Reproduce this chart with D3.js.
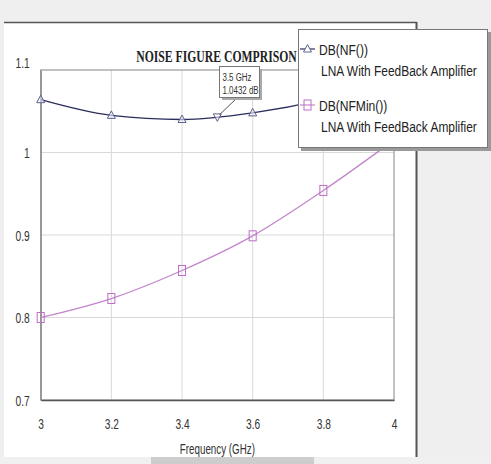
<!DOCTYPE html>
<html><head><meta charset="utf-8">
<script src="https://cdn.jsdelivr.net/npm/d3@7"></script>
<style>html,body{margin:0;padding:0;background:#fff;}svg{display:block;}</style>
</head><body>
<svg id="c" width="491" height="464"></svg>
<script>
// ---- data ----
const freqs = [3.0, 3.2, 3.4, 3.6, 3.8, 4.0];
const nfValues = [1.064, 1.045, 1.040, 1.048, 1.064, 1.088];
const nfMinValues = [0.800, 0.823, 0.857, 0.899, 0.954, 1.015];
const xTicks = [3, 3.2, 3.4, 3.6, 3.8, 4];
const yTicks = [0.7, 0.8, 0.9, 1, 1.1];
const markerFreq = 3.5, markerValue = 1.0432;
const markerLabel = ["3.5 GHz", "1.0432 dB"];
const title = "NOISE FIGURE COMPRISON";
const xLabel = "Frequency (GHz)";
const legendNames = ["DB(NF())", "DB(NFMin())"];
const legendSub = "LNA With FeedBack Amplifier";

const svg = d3.select("#c");
const sans = "'Liberation Sans', Arial, sans-serif";

// condensed text: placed with a horizontal scale transform
function ctext(parent, px, py, f, str) {
  return parent.append("text").attr("transform", `translate(${px},${py}) scale(${f},1)`).text(str);
}

// window chrome
svg.append("rect").attr("width", 491).attr("height", 464).attr("fill", "#efefef");
svg.append("rect").attr("x", 4).attr("y", 23).attr("width", 412).attr("height", 434).attr("fill", "#fff");
svg.append("line").attr("x1", 4).attr("x2", 417).attr("y1", 22.5).attr("y2", 22.5).attr("stroke", "#555").attr("stroke-width", 1.5);
svg.append("line").attr("x1", 416.5).attr("x2", 416.5).attr("y1", 22).attr("y2", 457).attr("stroke", "#555").attr("stroke-width", 2);
svg.append("rect").attr("x", 0).attr("y", 457).attr("width", 491).attr("height", 7).attr("fill", "#f0f0f0");
svg.append("rect").attr("x", 151).attr("y", 457).attr("width", 163).attr("height", 7).attr("fill", "#cdcdcd");

// scales
const x = d3.scaleLinear().domain([3, 4]).range([40.7, 394]);
const y = d3.scaleLinear().domain([0.7, 1.1]).range([400, 70]);

// grid
const g = svg.append("g");
g.selectAll(".vg").data(xTicks.slice(1, -1)).join("line")
  .attr("x1", d => x(d)).attr("x2", d => x(d)).attr("y1", y(1.1)).attr("y2", y(0.7))
  .attr("stroke", "#d9d9d9").attr("stroke-width", 1);
g.selectAll(".hg").data(yTicks.slice(1, -1)).join("line")
  .attr("x1", x(3)).attr("x2", x(4)).attr("y1", d => y(d)).attr("y2", d => y(d))
  .attr("stroke", "#d9d9d9").attr("stroke-width", 1);
g.append("rect").attr("x", x(3)).attr("y", y(1.1)).attr("width", x(4) - x(3)).attr("height", y(0.7) - y(1.1))
  .attr("fill", "none").attr("stroke", "#999").attr("stroke-width", 1.2);

// axes
const fx = 0.68;
const xAxis = svg.append("g").attr("transform", `translate(0,${y(0.7)})`)
  .call(d3.axisBottom(x).tickValues(xTicks).tickSize(0).tickPadding(18).tickFormat(d3.format("")));
xAxis.select(".domain").attr("stroke", "#555").attr("stroke-width", 1.5);
xAxis.selectAll("text").attr("font-family", sans).attr("font-size", 15).attr("fill", "#333")
  .attr("transform", `scale(${fx},1)`);

const yAxis = svg.append("g").attr("transform", `translate(${x(3)},0)`)
  .call(d3.axisLeft(y).tickValues(yTicks).tickSize(0).tickFormat(d3.format("")));
yAxis.select(".domain").attr("stroke", "#888").attr("stroke-width", 1.2);
yAxis.selectAll("text").attr("font-family", sans).attr("font-size", 15).attr("fill", "#333")
  .attr("x", -11 / fx).attr("transform", `scale(${fx},1)`)
  .attr("dy", d => d === 1.1 ? "-0.2em" : "0.35em");

ctext(svg, (x(3) + x(4)) / 2, 454, 0.7, xLabel).attr("text-anchor", "middle")
  .attr("font-family", sans).attr("font-size", 14).attr("fill", "#333");

// title
ctext(svg, 216.5, 62, 0.71, title).attr("text-anchor", "middle")
  .attr("font-family", "'Liberation Serif', 'Times New Roman', serif").attr("font-weight", "bold")
  .attr("font-size", 16.5).attr("fill", "#222");

// lines
const nfColor = "#2a2d5c", nfMark = "#5d6290";
const minColor = "#c386cc", minMark = "#c06cc8";
const lineGen = vals => d3.line().x((d, i) => x(freqs[i])).y(d => y(d)).curve(d3.curveMonotoneX)(vals);
svg.append("path").attr("d", lineGen(nfValues)).attr("fill", "none").attr("stroke", nfColor).attr("stroke-width", 1.3);
svg.append("path").attr("d", lineGen(nfMinValues)).attr("fill", "none").attr("stroke", minColor).attr("stroke-width", 1.3);

const tri = "M0,-4.5L4,3L-4,3Z";
const triDown = "M0,4.5L4,-3L-4,-3Z";
svg.selectAll(".tm").data(nfValues).join("path")
  .attr("d", tri).attr("transform", (d, i) => `translate(${x(freqs[i])},${y(d)})`)
  .attr("fill", "#eef0f8").attr("fill-opacity", 0.6).attr("stroke", nfMark).attr("stroke-width", 1);
svg.selectAll(".sm").data(nfMinValues).join("rect")
  .attr("x", (d, i) => x(freqs[i]) - 3.5).attr("y", d => y(d) - 5).attr("width", 7).attr("height", 10)
  .attr("fill", "none").attr("stroke", minMark).attr("stroke-width", 1);

// marker annotation
svg.append("path").attr("d", triDown).attr("transform", `translate(${x(markerFreq)},${y(markerValue)})`)
  .attr("fill", "#fff").attr("fill-opacity", 0.5).attr("stroke", nfMark).attr("stroke-width", 1);
svg.append("line").attr("x1", x(markerFreq) + 2).attr("y1", y(markerValue) - 2).attr("x2", 237).attr("y2", 98)
  .attr("stroke", "#555").attr("stroke-width", 1);
svg.append("rect").attr("x", 222).attr("y", 69).attr("width", 40).attr("height", 31).attr("fill", "#aaa");
svg.append("rect").attr("x", 219.5).attr("y", 66.5).attr("width", 40).attr("height", 31).attr("fill", "#fff").attr("stroke", "#777");
markerLabel.forEach((s, i) => {
  ctext(svg, 222.5, 81 + i * 12.5, 0.72, s).attr("font-family", sans).attr("font-size", 11).attr("fill", "#333");
});

// legend
const lg = svg.append("g");
lg.append("rect").attr("x", 301).attr("y", 32).attr("width", 190).attr("height", 119).attr("fill", "#9a9a9a");
lg.append("rect").attr("x", 298.5).attr("y", 29.5).attr("width", 189).attr("height", 118).attr("fill", "#fff").attr("stroke", "#777");
const items = [
  {name: legendNames[0], c: nfColor, m: nfMark, shape: "tri", y: 49},
  {name: legendNames[1], c: minColor, m: minMark, shape: "sq", y: 105}
];
items.forEach(it => {
  lg.append("line").attr("x1", 300).attr("x2", 315).attr("y1", it.y).attr("y2", it.y).attr("stroke", it.c).attr("stroke-width", 1.2);
  if (it.shape === "tri") {
    lg.append("path").attr("d", tri).attr("transform", `translate(307.5,${it.y})`).attr("fill", "#fff").attr("stroke", it.m);
  } else {
    lg.append("rect").attr("x", 304).attr("y", it.y - 5).attr("width", 7).attr("height", 10).attr("fill", "none").attr("stroke", it.m);
  }
  ctext(lg, 319, it.y + 5.5, 0.78, it.name).attr("font-family", sans).attr("font-size", 15.5).attr("fill", "#222");
  ctext(lg, 321, it.y + 26.5, 0.77, legendSub).attr("font-family", sans).attr("font-size", 15.5).attr("fill", "#222");
});
</script>
</body></html>
